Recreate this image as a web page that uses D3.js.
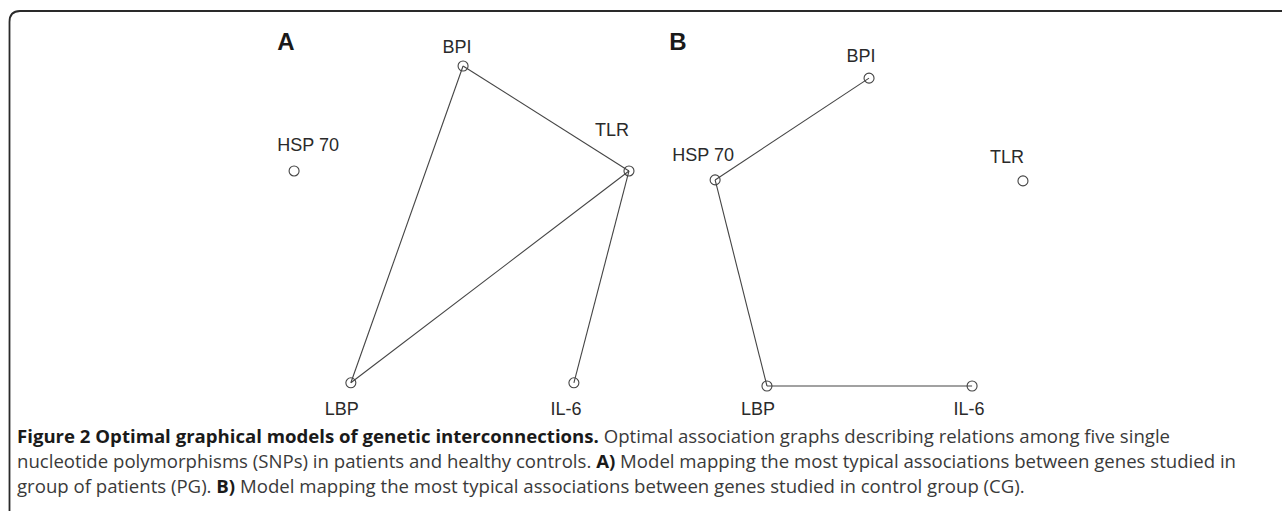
<!DOCTYPE html>
<html>
<head>
<meta charset="utf-8">
<script src="https://cdn.jsdelivr.net/npm/d3@7"></script>
<style>
  body { margin: 0; background: #fff; }
  svg { display: block; }
</style>
</head>
<body>
<div id="chart"></div>
<script>
// gene nodes, layout units 0..100 inside each panel
const genes = ["BPI", "TLR", "HSP 70", "LBP", "IL-6"];
const panelAX = [50.9, 99.7, 1.2, 17.9, 83.5];
const panelAY = [0, 32.8, 32.8, 99, 99];
const panelBX = [49.7, 97.8, 1.6, 17.8, 81.9];
const panelBY = [3.8, 35.9, 35.6, 100, 100];

// associations found
const edgesA = [["BPI", "TLR"], ["BPI", "LBP"], ["TLR", "LBP"], ["TLR", "IL-6"]];
const edgesB = [["HSP 70", "BPI"], ["HSP 70", "LBP"], ["LBP", "IL-6"]];

const panelNames = ["A", "B"];

const captionBold = "Figure 2 Optimal graphical models of genetic interconnections.";
const captionLines = [
  [{ t: captionBold, b: true }, { t: " Optimal association graphs describing relations among five single" }],
  [{ t: "nucleotide polymorphisms (SNPs) in patients and healthy controls. " }, { t: "A)", b: true }, { t: " Model mapping the most typical associations between genes studied in" }],
  [{ t: "group of patients (PG). " }, { t: "B)", b: true }, { t: " Model mapping the most typical associations between genes studied in control group (CG)." }]
];

const width = 1282, height = 511;

// label offsets relative to node centre (dx, baseline dy)
const labelOffA = { "BPI": [-6, -13], "TLR": [-17, -35], "HSP 70": [14, -20], "LBP": [-9, 32], "IL-6": [-8, 32] };
const labelOffB = { "BPI": [-8, -16], "TLR": [-16, -18], "HSP 70": [-12, -19], "LBP": [-9, 29], "IL-6": [-3, 29] };

const svg = d3.select("#chart").append("svg")
  .attr("width", width)
  .attr("height", height);

// frame with rounded top-left corner, open at right and bottom
svg.append("path")
  .attr("d", "M9.5,511 L9.5,22 Q9.5,11 20,11 L1282,11")
  .attr("fill", "none")
  .attr("stroke", "#2a2a2a")
  .attr("stroke-width", 1.8);

const yScale = d3.scaleLinear().domain([0, 100]).range([66, 386]);
const xScaleA = d3.scaleLinear().domain([0, 100]).range([290, 630]);
const xScaleB = d3.scaleLinear().domain([0, 100]).range([710, 1030]);

const panels = [
  { name: panelNames[0], xs: panelAX, ys: panelAY, edges: edgesA, x: xScaleA, off: labelOffA, tag: [286, 50] },
  { name: panelNames[1], xs: panelBX, ys: panelBY, edges: edgesB, x: xScaleB, off: labelOffB, tag: [678, 50] }
];

panels.forEach(p => {
  const nodes = genes.map((g, i) => ({ id: g, x: p.x(p.xs[i]), y: yScale(p.ys[i]) }));
  const byId = new Map(nodes.map(n => [n.id, n]));
  const g = svg.append("g");

  g.append("text")
    .attr("x", p.tag[0])
    .attr("y", p.tag[1])
    .attr("text-anchor", "middle")
    .attr("font-family", "Liberation Sans, Arial, sans-serif")
    .attr("font-weight", "bold")
    .attr("font-size", 24)
    .attr("fill", "#1a1a1a")
    .text(p.name);

  g.selectAll("line").data(p.edges).enter().append("line")
    .attr("x1", d => byId.get(d[0]).x)
    .attr("y1", d => byId.get(d[0]).y)
    .attr("x2", d => byId.get(d[1]).x)
    .attr("y2", d => byId.get(d[1]).y)
    .attr("stroke", "#444")
    .attr("stroke-width", 1.1);

  g.selectAll("circle").data(nodes).enter().append("circle")
    .attr("cx", d => d.x)
    .attr("cy", d => d.y)
    .attr("r", 5)
    .attr("fill", "none")
    .attr("stroke", "#444")
    .attr("stroke-width", 1.1);

  g.selectAll("text.lbl").data(nodes).enter().append("text")
    .attr("class", "lbl")
    .attr("x", d => d.x + p.off[d.id][0])
    .attr("y", d => d.y + p.off[d.id][1])
    .attr("text-anchor", "middle")
    .attr("font-family", "Liberation Sans, Arial, sans-serif")
    .attr("font-size", 18)
    .attr("fill", "#2a2a2a")
    .text(d => d.id);
});

// caption
const cap = svg.append("g")
  .attr("font-family", "Open Sans, Noto Sans, sans-serif")
  .attr("font-size", 18.6)
  .attr("fill", "#3a3a3a");

cap.selectAll("text").data(captionLines).enter().append("text")
  .attr("x", 17)
  .attr("y", (d, i) => 443 + i * 25)
  .each(function (parts) {
    d3.select(this).selectAll("tspan").data(parts).enter().append("tspan")
      .attr("font-weight", d => d.b ? "bold" : null)
      .attr("fill", d => d.b ? "#1a1a1a" : null)
      .text(d => d.t);
  });
</script>
</body>
</html>
